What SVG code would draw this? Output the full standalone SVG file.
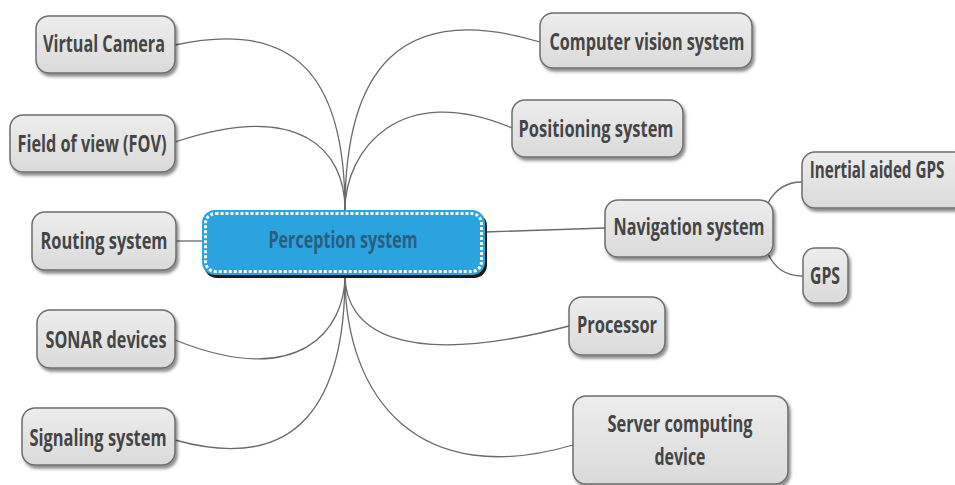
<svg xmlns="http://www.w3.org/2000/svg" width="955" height="485" viewBox="0 0 955 485">
<defs>
<linearGradient id="g" x1="0" y1="0" x2="0" y2="1">
<stop offset="0" stop-color="#ededed"/><stop offset="1" stop-color="#dadada"/>
</linearGradient>
<filter id="sh" x="-10%" y="-20%" width="130%" height="150%">
<feDropShadow dx="2" dy="3" stdDeviation="1.5" flood-color="#000" flood-opacity="0.45"/>
</filter>
<style>
.n rect{fill:url(#g);stroke:#6e6e6e;stroke-width:1.5;filter:url(#sh)}
.n text{font-family:"Open Sans","Noto Sans",sans-serif;font-weight:bold;font-size:23px;fill:#454545;text-anchor:middle}
.c path{fill:none;stroke:#6a6a6a;stroke-width:1.3}
</style>
</defs>
<rect width="955" height="485" fill="#fff"/>
<g class="c">
<path d="M345 210 C345 70 290 20 175 45"/>
<path d="M345 210 C345 150 300 100 175 142"/>
<path d="M202 241 L176 241"/>
<path d="M345 275 C345 330 300 390 175 340"/>
<path d="M345 275 C345 400 300 475 175 440"/>
<path d="M345 210 C345 70 400 0 540 42"/>
<path d="M345 210 C345 150 400 80 512 128"/>
<path d="M485 232 L605 228"/>
<path d="M345 275 C345 330 400 370 569 326"/>
<path d="M345 275 C345 400 420 490 573 445"/>
<path d="M768 203 C775 190 785 182 802 182"/>
<path d="M768 254 C775 268 785 276 803 276"/>
</g>
<g id="center">
<rect x="202" y="210" width="283" height="65" rx="13" fill="#1a1a1a" transform="translate(2,3)"/>
<rect x="202" y="210" width="283" height="65" rx="13" fill="#2aa3df"/>
<rect x="205.5" y="213.5" width="276" height="58" rx="10" fill="none" stroke="#fff" stroke-width="3" stroke-dasharray="3 2"/>
<text x="343" y="248" font-family="Open Sans,Noto Sans,sans-serif" font-weight="bold" font-size="23" fill="#2b5d7f" text-anchor="middle" textLength="149" lengthAdjust="spacingAndGlyphs">Perception system</text>
</g>
<g id="virtual-camera" class="n"><rect x="36" y="16" width="139" height="57" rx="13"/><text x="104" y="52" textLength="122" lengthAdjust="spacingAndGlyphs">Virtual Camera</text></g>
<g id="fov" class="n"><rect x="10" y="115" width="165" height="57" rx="13"/><text x="92" y="152" textLength="149" lengthAdjust="spacingAndGlyphs">Field of view (FOV)</text></g>
<g id="routing" class="n"><rect x="32" y="212" width="144" height="58" rx="13"/><text x="104" y="249" textLength="127" lengthAdjust="spacingAndGlyphs">Routing system</text></g>
<g id="sonar" class="n"><rect x="37" y="310" width="138" height="58" rx="13"/><text x="106" y="348" textLength="121" lengthAdjust="spacingAndGlyphs">SONAR devices</text></g>
<g id="signaling" class="n"><rect x="22" y="408" width="153" height="57" rx="13"/><text x="98" y="446" textLength="137" lengthAdjust="spacingAndGlyphs">Signaling system</text></g>
<g id="computer-vision" class="n"><rect x="540" y="13" width="212" height="55" rx="13"/><text x="647" y="50" textLength="195" lengthAdjust="spacingAndGlyphs">Computer vision system</text></g>
<g id="positioning" class="n"><rect x="512" y="100" width="171" height="57" rx="13"/><text x="596" y="137" textLength="155" lengthAdjust="spacingAndGlyphs">Positioning system</text></g>
<g id="navigation" class="n"><rect x="605" y="200" width="168" height="57" rx="13"/><text x="689" y="235" textLength="151" lengthAdjust="spacingAndGlyphs">Navigation system</text></g>
<g id="inertial" class="n"><rect x="802" y="152" width="165" height="56" rx="13"/><text transform="translate(877,178) scale(0.66,1)">Inertial aided GPS</text></g>
<g id="gps" class="n"><rect x="803" y="248" width="45" height="55" rx="12"/><text x="825" y="284" textLength="30" lengthAdjust="spacingAndGlyphs">GPS</text></g>
<g id="processor" class="n"><rect x="569" y="297" width="96" height="58" rx="13"/><text x="617" y="333" textLength="80" lengthAdjust="spacingAndGlyphs">Processor</text></g>
<g id="server" class="n"><rect x="573" y="396" width="215" height="88" rx="13"/><text x="680" y="432" textLength="145" lengthAdjust="spacingAndGlyphs">Server computing</text><text x="680" y="465" textLength="51" lengthAdjust="spacingAndGlyphs">device</text></g>
</svg>
